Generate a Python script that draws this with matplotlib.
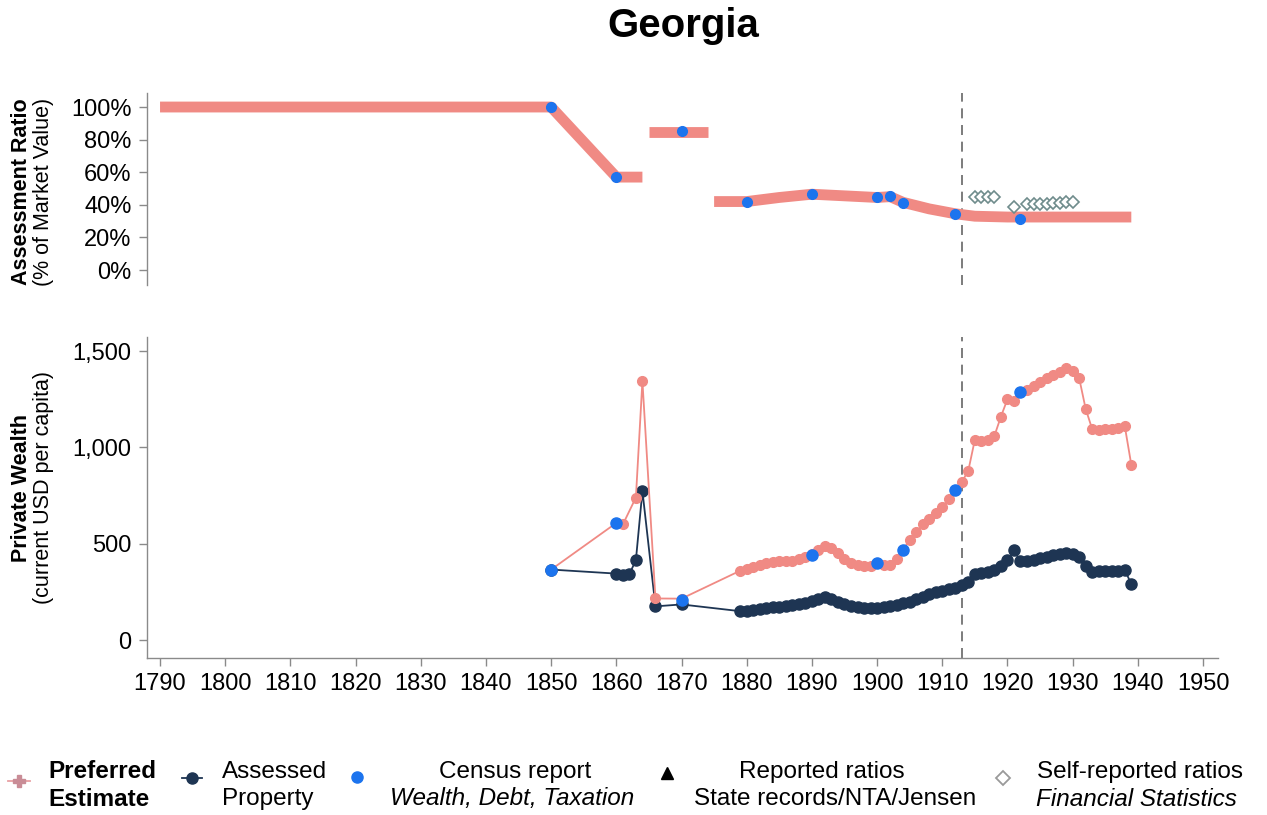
import matplotlib.pyplot as plt
from matplotlib.lines import Line2D

plt.rcParams['font.family'] = ['Liberation Sans', 'DejaVu Sans']

W, H = 1267, 815

# ---------------- data ----------------
# assessment ratio (% of market value), preferred estimate in three pieces
ratio_a_years = [1790, 1850, 1860, 1864]
ratio_a = [100, 100, 57, 57]
ratio_b_years = [1865, 1874]
ratio_b = [84.5, 84.5]
ratio_c_years = [1875, 1880, 1885, 1890, 1895, 1900, 1902, 1904, 1908, 1912,
                 1915, 1920, 1925, 1930, 1935, 1939]
ratio_c = [42, 42, 44.5, 46.5, 45.5, 44.5, 45, 41.5, 37.5, 34.5,
           33, 32.5, 32.5, 32.5, 32.5, 32.5]

census_ratio_years = [1850, 1860, 1870, 1880, 1890, 1900, 1902, 1904, 1912, 1922]
census_ratio = [100, 57, 85, 42, 46.5, 44.5, 45.4, 41.3, 34.4, 31.5]

self_ratio_years = [1915, 1916, 1917, 1918, 1921, 1923, 1924, 1925, 1926,
                    1927, 1928, 1929, 1930]
self_ratio = [44.5, 44.5, 44.5, 44.5, 38.5, 40.5, 40.5, 40.5, 40.5,
              41, 41, 41.5, 41.5]

# private wealth (current USD per capita)
late_years = list(range(1879, 1940))

pref_years = [1850, 1860, 1861, 1863, 1864, 1866, 1870] + late_years
pref_wealth = [366, 608, 600, 740, 1344, 216, 215,
               360, 370, 380, 392, 400, 405, 408, 410, 412, 420,
               432, 445, 470, 490, 478, 450, 420, 400, 392, 385,
               385, 400, 392, 392, 420, 470, 520, 560, 600, 628,
               660, 692, 730, 778, 820, 880, 1040, 1035, 1040, 1060,
               1160, 1250, 1240, 1285, 1300, 1320, 1340, 1360, 1375, 1390,
               1410, 1395, 1360, 1200, 1095, 1090, 1095, 1098, 1100, 1110, 910]

assessed_years = [1850, 1860, 1861, 1862, 1863, 1864, 1866, 1870] + late_years
assessed_wealth = [366, 345, 338, 342, 415, 774, 175, 185,
                   150, 152, 158, 162, 166, 170, 173, 176, 180, 186,
                   195, 205, 215, 222, 215, 200, 185, 176, 170, 166,
                   165, 168, 172, 176, 182, 190, 200, 212, 225, 238,
                   248, 256, 264, 272, 285, 300, 345, 350, 352, 365,
                   385, 415, 465, 408, 410, 418, 425, 432, 440, 448,
                   452, 448, 430, 385, 355, 360, 360, 358, 360, 365, 290]

census_wealth_years = [1850, 1860, 1870, 1890, 1900, 1904, 1912, 1922]
census_wealth = [366, 608, 207, 441, 401, 470, 778, 1287]

ratio_ticks = [0, 20, 40, 60, 80, 100]
wealth_ticks = [0, 500, 1000, 1500]
year_ticks = list(range(1790, 1951, 10))

PINK = '#F08A84'
NAVY = '#1E3553'
BLUE = '#1C74EE'
DIAM = '#6F8C8C'
GREY = '#8A8A8A'

fig = plt.figure(figsize=(W / 100, H / 100), dpi=100)


def px_rect(x0, y0, x1, y1):
    return [x0 / W, 1 - y1 / H, (x1 - x0) / W, (y1 - y0) / H]


ax1 = fig.add_axes(px_rect(147, 93, 1218, 285))
ax2 = fig.add_axes(px_rect(147, 337, 1218, 658))

# ---------------- top panel ----------------
for yrs, vals in [(ratio_a_years, ratio_a), (ratio_b_years, ratio_b), (ratio_c_years, ratio_c)]:
    ax1.plot(yrs, vals, color=PINK, lw=7.8, solid_capstyle='butt', zorder=2)
ax1.plot(self_ratio_years, self_ratio, ls='none', marker='D', ms=6.5, mfc='white',
         mec=DIAM, mew=1.2, zorder=4)
ax1.plot(census_ratio_years, census_ratio, ls='none', marker='o', ms=7,
         color=BLUE, zorder=5)

ax1.set_xlim(1788, 1952.3)
ax1.set_ylim(-9.2, 108.6)
ax1.set_yticks(ratio_ticks)
ax1.set_yticklabels([f'{t}%' for t in ratio_ticks])
ax1.set_xticks([])
for s in ['top', 'right', 'bottom']:
    ax1.spines[s].set_visible(False)

# ---------------- bottom panel ----------------
ax2.plot(pref_years, pref_wealth, color=PINK, lw=1.3, marker='o', ms=7,
         mec=PINK, zorder=3)
ax2.plot(assessed_years, assessed_wealth, color=NAVY, lw=1.3, marker='o', ms=8,
         zorder=2)
ax2.plot(census_wealth_years, census_wealth, ls='none', marker='o', ms=8,
         color=BLUE, zorder=5)

ax2.set_xlim(1788, 1952.3)
ax2.set_ylim(-93, 1573)
ax2.set_yticks(wealth_ticks)
ax2.set_yticklabels([f'{t:,}' for t in wealth_ticks])
ax2.set_xticks(year_ticks)
for s in ['top', 'right']:
    ax2.spines[s].set_visible(False)

for ax in (ax1, ax2):
    ax.axvline(1913, color='#666666', lw=1.2, ls=(0, (6, 4)), zorder=1)
    ax.set_facecolor('none')
    for s in ['left', 'bottom']:
        ax.spines[s].set_color(GREY)
        ax.spines[s].set_linewidth(1.0)
    ax.tick_params(colors=GREY, labelcolor='black', labelsize=17, length=6,
                   width=1.0, pad=5)


def px_text(x, y, s, **kw):
    fig.text(x / W, 1 - y / H, s, **kw)


# title and axis titles
px_text(683, 26, 'Georgia', fontsize=29, fontweight='bold',
        ha='center', va='center')
px_text(22, 192, 'Assessment Ratio', fontsize=15.5, fontweight='bold',
        rotation=90, ha='center', va='center')
px_text(44, 192, '(% of Market Value)', fontsize=15.5,
        rotation=90, ha='center', va='center')
px_text(22, 488, 'Private Wealth', fontsize=15.5, fontweight='bold',
        rotation=90, ha='center', va='center')
px_text(44, 488, '(current USD per capita)', fontsize=15.5,
        rotation=90, ha='center', va='center')

# ---------------- legend ----------------
leg = fig.add_axes([0, 0, 1, 1])
leg.set_xlim(0, W)
leg.set_ylim(H, 0)
leg.axis('off')
leg.set_facecolor('none')

leg.add_line(Line2D([8, 30], [781, 781], color='#E8A0A4', lw=1.3))
leg.plot([19], [781], marker='P', ms=8, color='#C98C96')
leg.add_line(Line2D([182, 202], [778, 778], color=NAVY, lw=1.3))
leg.plot([192], [778], marker='o', ms=8, color=NAVY)
leg.plot([357], [777], marker='o', ms=8, color=BLUE)
leg.plot([667], [773], marker='^', ms=9, color='black')
leg.plot([1003], [778], marker='D', ms=7, mfc='white', mec='#9A9A9A', mew=1.3)

fs = 17.5
px_text(48, 772, 'Preferred', fontsize=fs, fontweight='bold', ha='left', va='center')
px_text(48, 799, 'Estimate', fontsize=fs, fontweight='bold', ha='left', va='center')
px_text(222, 772, 'Assessed', fontsize=fs, ha='left', va='center')
px_text(222, 799, 'Property', fontsize=fs, ha='left', va='center')
px_text(515, 772, 'Census report', fontsize=fs, ha='center', va='center')
px_text(512, 799, 'Wealth, Debt, Taxation', fontsize=fs, style='italic',
        ha='center', va='center')
px_text(822, 772, 'Reported ratios', fontsize=fs, ha='center', va='center')
px_text(835, 799, 'State records/NTA/Jensen', fontsize=fs, ha='center', va='center')
px_text(1140, 772, 'Self-reported ratios', fontsize=fs, ha='center', va='center')
px_text(1136, 799, 'Financial Statistics', fontsize=fs, style='italic',
        ha='center', va='center')

fig.savefig('out.png', dpi=100)
